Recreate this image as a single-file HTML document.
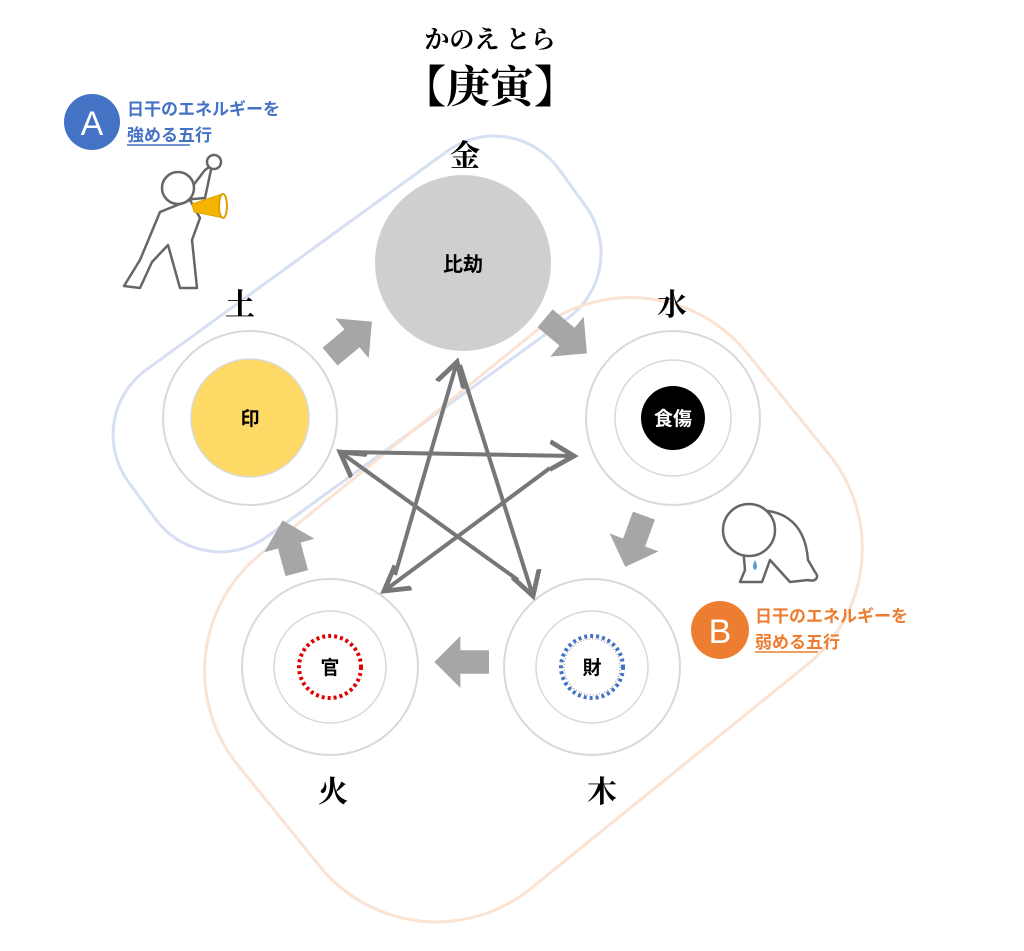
<!DOCTYPE html>
<html><head><meta charset="utf-8"><style>
html,body{margin:0;padding:0;background:#fff;overflow:hidden;}
svg{display:block;}
.s{font-family:"Liberation Serif","Noto Serif CJK SC",serif;}
.g{font-family:"Liberation Sans","Noto Sans CJK JP",sans-serif;}
</style></head><body>
<svg width="1024" height="951" viewBox="0 0 1024 951">
<defs>
<marker id="ah" markerWidth="8" markerHeight="8" refX="6" refY="4" orient="auto" markerUnits="strokeWidth">
<path d="M0,0.5 L6,4 L0,7.5" fill="none" stroke="#777" stroke-width="1.2"/>
</marker>
</defs>
<!-- enclosures -->
<rect x="-266" y="-108" width="532" height="206" rx="80" transform="translate(360,348) rotate(-36)" fill="none" stroke="#d6e0f2" stroke-width="3"/>
<rect x="-340" y="-210" width="655" height="430" rx="150" transform="translate(540,598) rotate(-39)" fill="none" stroke="#fbe3d4" stroke-width="3"/>

<!-- title -->
<text x="490" y="48" text-anchor="middle" font-size="25" font-weight="bold" class="s">かのえ とら</text>
<text x="490" y="102" text-anchor="middle" font-size="44" font-weight="bold" class="s">【庚寅】</text>

<!-- A label -->
<circle cx="92" cy="122" r="28" fill="#4472c4"/>
<text x="92" y="135" text-anchor="middle" font-size="34" fill="#fff" class="g">A</text>
<text x="127" y="115" font-size="17" fill="#4472c4" class="g" font-weight="bold">日干のエネルギーを</text>
<text x="127" y="141" font-size="17" fill="#4472c4" class="g" font-weight="bold">強める五行</text>
<line x1="127" y1="145" x2="190" y2="145" stroke="#4472c4" stroke-width="1.5"/>

<!-- B label -->
<circle cx="720" cy="630" r="29" fill="#ed7d31"/>
<text x="720" y="643" text-anchor="middle" font-size="34" fill="#fff" class="g">B</text>
<text x="755" y="622" font-size="17" fill="#ed7d31" class="g" font-weight="bold">日干のエネルギーを</text>
<text x="755" y="648" font-size="17" fill="#ed7d31" class="g" font-weight="bold">弱める五行</text>
<line x1="755" y1="652" x2="818" y2="652" stroke="#ed7d31" stroke-width="1.5"/>

<!-- element labels -->
<g class="s" font-size="30" font-weight="bold" text-anchor="middle">
<text x="465" y="166">金</text>
<text x="240" y="315">土</text>
<text x="672" y="315">水</text>
<text x="333" y="802">火</text>
<text x="602" y="802">木</text>
</g>

<!-- circles -->
<circle cx="463" cy="263" r="88" fill="#cfcfcf"/>
<text x="463" y="271" text-anchor="middle" font-size="20" class="g" font-weight="bold">比劫</text>

<circle cx="250" cy="418" r="87" fill="none" stroke="#d9d9d9" stroke-width="2"/>
<circle cx="250" cy="418" r="59" fill="#ffd966" stroke="#d9d9d9" stroke-width="1.5"/>
<text x="250" y="425" text-anchor="middle" font-size="19" class="g" font-weight="bold">印</text>

<circle cx="673" cy="418" r="87" fill="none" stroke="#d9d9d9" stroke-width="2"/>
<circle cx="673" cy="418" r="58" fill="none" stroke="#d9d9d9" stroke-width="1.5"/>
<circle cx="673" cy="418" r="32" fill="#000"/>
<text x="673" y="425" text-anchor="middle" font-size="19" fill="#fff" class="g" font-weight="bold">食傷</text>

<circle cx="330" cy="667" r="88" fill="none" stroke="#d9d9d9" stroke-width="2"/>
<circle cx="330" cy="667" r="56" fill="none" stroke="#d9d9d9" stroke-width="1.5"/>
<circle cx="330" cy="667" r="31" fill="none" stroke="#e00000" stroke-width="4" stroke-dasharray="3,3"/>
<text x="330" y="674" text-anchor="middle" font-size="19" class="g" font-weight="bold">官</text>

<circle cx="592" cy="667" r="88" fill="none" stroke="#d9d9d9" stroke-width="2"/>
<circle cx="592" cy="667" r="56" fill="none" stroke="#d9d9d9" stroke-width="1.5"/>
<circle cx="592" cy="667" r="31" fill="none" stroke="#4472c4" stroke-width="4" stroke-dasharray="3,3"/>
<circle cx="592" cy="667" r="28" fill="none" stroke="#888" stroke-width="1" stroke-dasharray="1,2"/>
<text x="592" y="674" text-anchor="middle" font-size="19" class="g" font-weight="bold">財</text>

<!-- block arrows -->
<g fill="#a6a6a6">
<path d="M-20,-9 L2,-9 L2,-20 L22,0 L2,20 L2,9 L-20,9 Z" transform="translate(350,340) rotate(-40) scale(1.3)"/>
<path d="M-20,-9 L2,-9 L2,-20 L22,0 L2,20 L2,9 L-20,9 Z" transform="translate(565,335) rotate(40) scale(1.3)"/>
<path d="M-20,-9 L2,-9 L2,-20 L22,0 L2,20 L2,9 L-20,9 Z" transform="translate(635,540) rotate(110) scale(1.3)"/>
<path d="M-20,-9 L2,-9 L2,-20 L22,0 L2,20 L2,9 L-20,9 Z" transform="translate(463,662) rotate(180) scale(1.3)"/>
<path d="M-20,-9 L2,-9 L2,-20 L22,0 L2,20 L2,9 L-20,9 Z" transform="translate(290,548) rotate(-105) scale(1.3)"/>
</g>

<!-- star -->
<g stroke="#777" stroke-width="4" fill="none" marker-end="url(#ah)">
<line x1="460" y1="365" x2="533" y2="596"/>
<line x1="518" y1="580" x2="340" y2="452"/>
<line x1="345" y1="452" x2="574" y2="456"/>
<line x1="550" y1="468" x2="384" y2="591"/>
<line x1="395" y1="575" x2="457" y2="362"/>
</g>

<!-- figure A (megaphone) -->
<g fill="#fff" stroke="#666" stroke-width="2.5" stroke-linejoin="round">
<path d="M160,212 L140,260 L124,286 L140,288 L152,262 L168,245 L180,288 L197,288 L192,240 L200,218 L190,200 Z"/>
<path d="M182,200 L205,170 L212,165 L205,198 Z"/>
<circle cx="214" cy="162" r="7"/>
<circle cx="178" cy="188" r="16"/>
</g>
<path d="M192,204 L222,194 L224,218 L194,212 Z" fill="#f5b400" stroke="#e0a000" stroke-width="1"/>
<ellipse cx="223" cy="206" rx="4" ry="12" fill="#fff" stroke="#e0a000" stroke-width="2"/>

<!-- figure B (kneeling) -->
<g fill="#fff" stroke="#666" stroke-width="2.5" stroke-linejoin="round">
<path d="M740,512 C780,505 805,520 808,560 L815,572 C820,578 815,582 808,580 L790,582 L770,560 L762,582 L740,582 L745,570 Z"/>
<circle cx="749" cy="530" r="26"/>
</g>
<path d="M755,560 q-4,8 0,10 q4,-2 0,-10z" fill="#5b9bd5"/>
</svg>
</body></html>
